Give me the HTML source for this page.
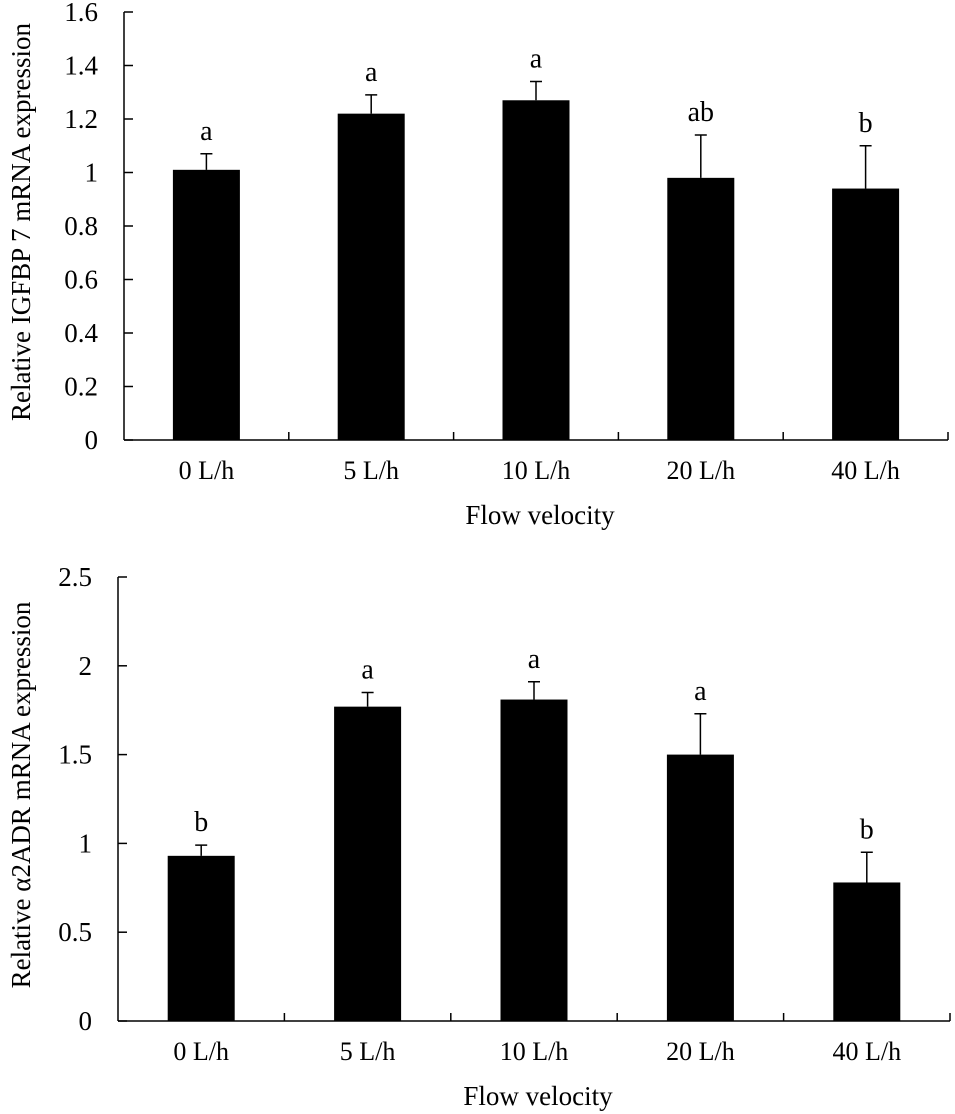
<!DOCTYPE html>
<html><head><meta charset="utf-8">
<style>
html,body{margin:0;padding:0;background:#fff;}
svg{display:block;}
text{font-family:"Liberation Serif",serif;fill:#000;}
</style></head>
<body>
<svg id="fig" width="955" height="1114" viewBox="0 0 955 1114" xmlns="http://www.w3.org/2000/svg"></svg>
<script>
const categories = ["0 L/h","5 L/h","10 L/h","20 L/h","40 L/h"];
const igfbpValues = [1.01, 1.22, 1.27, 0.98, 0.94];
const igfbpErrors = [0.06, 0.07, 0.07, 0.16, 0.16];
const igfbpLetters = ["a","a","a","ab","b"];
const igfbpTicks = [0,0.2,0.4,0.6,0.8,1,1.2,1.4,1.6];
const adrValues = [0.93, 1.77, 1.81, 1.50, 0.78];
const adrErrors = [0.06, 0.08, 0.10, 0.23, 0.17];
const adrLetters = ["b","a","a","a","b"];
const adrTicks = [0,0.5,1,1.5,2,2.5];

const NS = "http://www.w3.org/2000/svg";
const svg = document.getElementById("fig");
function mk(tag, attrs, parent){
  const e = document.createElementNS(NS, tag);
  for (const k in attrs) e.setAttribute(k, attrs[k]);
  (parent||svg).appendChild(e);
  return e;
}
function drawChart(cfg){
  const g = mk("g", {});
  
  
  const n = categories.length;
  const bw = (cfg.x1 - cfg.x0) / n;
  const xC = i => cfg.x0 + bw*(i+0.5);
  const yS = v => cfg.y0 - (v/cfg.max)*(cfg.y0 - cfg.yTop);
  const ya = mk("line",{x1:cfg.x0,y1:cfg.yTop,x2:cfg.x0,y2:cfg.y0,stroke:"#000","stroke-width":1.5},g);
  
  
  const xa = mk("line",{x1:cfg.x0,y1:cfg.y0,x2:cfg.x1,y2:cfg.y0,stroke:"#000","stroke-width":1.5},g);
  
  
  cfg.ticks.forEach(t=>{
    const y = yS(t);
    mk("line",{x1:cfg.x0,y1:y,x2:cfg.x0+9,y2:y,stroke:"#000","stroke-width":1.5},g);
    const tl = mk("text",{x:cfg.x0-26,y:y+9,"text-anchor":"end","font-size":27},g);
    tl.textContent = String(t);
    
    
  });
  for (let i=1;i<=n;i++){
    const x = cfg.x0 + bw*i;
    mk("line",{x1:x,y1:cfg.y0,x2:x,y2:cfg.y0-8,stroke:"#000","stroke-width":1.5},g);
  }
  categories.forEach((c,i)=>{
    const x = xC(i);
    const v = cfg.values[i], e = cfg.errors[i];
    const bar = mk("rect",{x:x-33.5,y:yS(v),width:67,height:cfg.y0-yS(v),fill:"#000"},g);
    
    
    const ey = yS(v+e);
    const eb = mk("path",{d:`M${x} ${yS(v)} V${ey} M${x-6} ${ey} H${x+6}`,stroke:"#000","stroke-width":1.5,fill:"none"},g);
    
    
    const lt = mk("text",{x:x,y:ey-14,"text-anchor":"middle","font-size":28},g);
    lt.textContent = cfg.letters[i];
    
    
    const xl = mk("text",{x:x,y:cfg.y0+39,"text-anchor":"middle","font-size":26},g);
    xl.textContent = c;
    
    
  });
  const xt = mk("text",{x:(cfg.x0+cfg.x1)/2+4,y:cfg.y0+84,"text-anchor":"middle","font-size":27},g);
  xt.textContent = "Flow velocity";
  
  
  const cy = (cfg.yTop+cfg.y0)/2 - 4;
  const yt = mk("text",{x:0,y:0,"text-anchor":"middle","font-size":27,transform:`translate(30 ${cy}) rotate(-90)`},g);
  yt.textContent = cfg.ytitle;
  
  
}
drawChart({name:"igfbp7-chart",x0:124,x1:948,yTop:12,y0:440,max:1.6,ticks:igfbpTicks,values:igfbpValues,errors:igfbpErrors,letters:igfbpLetters,ytitle:"Relative IGFBP 7 mRNA expression"});
drawChart({name:"a2adr-chart",x0:118,x1:950,yTop:577,y0:1021,max:2.5,ticks:adrTicks,values:adrValues,errors:adrErrors,letters:adrLetters,ytitle:"Relative \u03B12ADR mRNA expression"});
</script>
</body></html>
